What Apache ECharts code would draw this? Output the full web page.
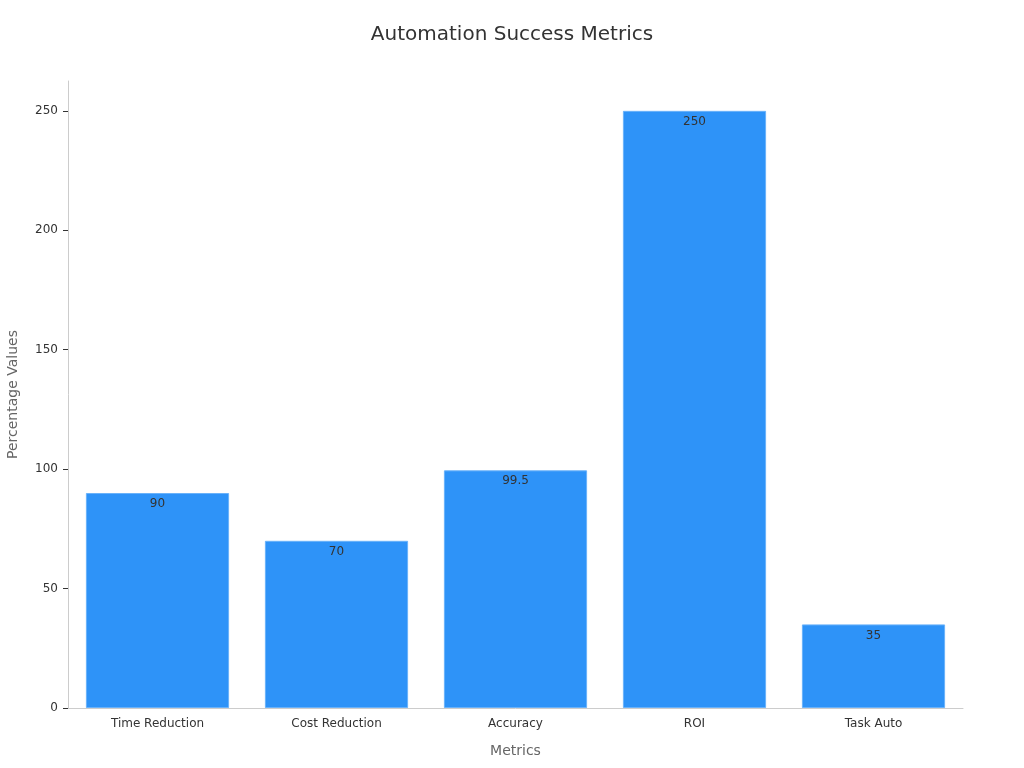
<!DOCTYPE html>
<html lang="en">
<head>
    <meta charset="UTF-8">
    <title>Automation Success Metrics</title>
    <script src="https://cdn.jsdelivr.net/npm/echarts@6/dist/echarts.min.js"></script>
    <style>
        html, body { margin: 0; padding: 0; background: #fff; }
        #chart { width: 1024px; height: 768px; }
    </style>
</head>
<body>
    <div id="chart"></div>
    <script>
        // data
        const categories = ['Time Reduction', 'Cost Reduction', 'Accuracy', 'ROI', 'Task Auto'];
        const values = [90, 70, 99.5, 250, 35];

        const myChart = echarts.init(document.getElementById('chart'));
        const option = {
            textStyle: { fontFamily: 'DejaVu Sans' },
            title: {
                text: 'Automation Success Metrics',
                left: 'center',
                top: 20,
                textStyle: { fontSize: 20, fontWeight: 'normal', color: '#333' }
            },
            grid: { left: 68, right: 61, top: 81, bottom: 60, outerBoundsMode: 'none', containLabel: false },
            xAxis: {
                type: 'category',
                data: categories,
                name: 'Metrics',
                nameLocation: 'middle',
                nameGap: 36,
                nameTextStyle: { fontSize: 14, color: '#666' },
                axisLine: { lineStyle: { color: '#ccc' } },
                axisTick: { alignWithLabel: true, lineStyle: { color: '#333' } },
                axisLabel: { fontSize: 12, color: '#333', margin: 10 }
            },
            yAxis: {
                type: 'value',
                min: 0,
                max: 262.5,
                interval: 50,
                name: 'Percentage Values',
                nameLocation: 'middle',
                nameGap: 48,
                nameTextStyle: { fontSize: 14, color: '#666' },
                axisLine: { show: true, lineStyle: { color: '#ccc' } },
                axisTick: { show: true, lineStyle: { color: '#333' } },
                axisLabel: { fontSize: 12, color: '#333', margin: 10, showMaxLabel: false },
                splitLine: { show: false }
            },
            series: [{
                type: 'bar',
                data: values,
                barCategoryGap: '20%',
                itemStyle: { color: '#2E93F8', borderColor: '#6AB2FA', borderWidth: 1 },
                label: {
                    show: true,
                    position: 'insideTop',
                    fontSize: 12,
                    color: '#333'
                }
            }]
        };
        myChart.setOption(option);
    </script>
</body>
</html>
